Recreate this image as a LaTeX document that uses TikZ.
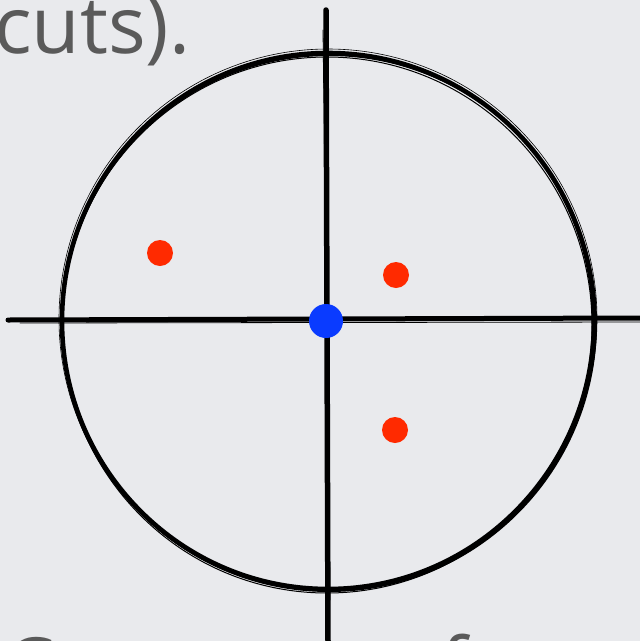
\documentclass[tikz,border=0pt]{standalone}
\usepackage{fontspec}
\setmainfont{Open Sans}
\definecolor{bg}{HTML}{E9EAED}
\definecolor{txtgray}{HTML}{5A5A5A}
\definecolor{dotred}{HTML}{FF2A00}
\definecolor{dotblue}{HTML}{0A3BFF}
\tikzset{
  ink/.style={draw=black, line cap=round},
  reddot/.style={circle, fill=dotred, inner sep=0pt, minimum size=26pt},
  bluedot/.style={circle, fill=dotblue, inner sep=0pt, minimum size=34pt},
  bigtext/.style={text=txtgray, font=\fontsize{79}{84}\selectfont, inner sep=0pt, anchor=base west}
}
\begin{document}
\begin{tikzpicture}[x=1pt,y=-1pt]
\useasboundingbox (0,0) rectangle (640,641);
\fill[bg] (0,0) rectangle (640,641);
\begin{scope}
\clip (0,0) rectangle (640,641);
\node[bigtext] (cuts) at (-6,53) {cuts).};
\node[bigtext] (bl) at (4,694) {C};
\node[bigtext, text=dotblue] (bc) at (352,694) {$\mathcal{C}$};
\node[bigtext] (bf) at (440,694) {f};
\end{scope}
% circle brush
\coordinate (c) at (328,321);
\draw[ink, line width=4.6pt] (c) ellipse [x radius=266, y radius=268];
\draw[ink, line width=2pt] (329,323) ellipse [x radius=267, y radius=268];
\draw[ink, line width=1pt] (327,325) ellipse [x radius=265, y radius=268];
\draw[ink, line width=0.6pt] (328,319) ellipse [x radius=269, y radius=270];
% cross lines
\coordinate (hl) at (8,320);
\coordinate (hr) at (640,318);
\coordinate (vt) at (326,10);
\coordinate (vb) at (328,641);
\draw[ink, line width=5pt] (hl) -- (hr);
\draw[ink, line width=0.8pt] (20,323) -- (640,322);
\draw[ink, line width=5.5pt] (vt) -- (vb);
\draw[ink, line width=0.8pt] (323,30) -- (330,600);
% dots
\node[reddot] (r1) at (160,253) {};
\node[reddot] (r2) at (396,275) {};
\node[reddot] (r3) at (395,430) {};
\node[bluedot] (b) at (326,321) {};
\end{tikzpicture}
\end{document}
